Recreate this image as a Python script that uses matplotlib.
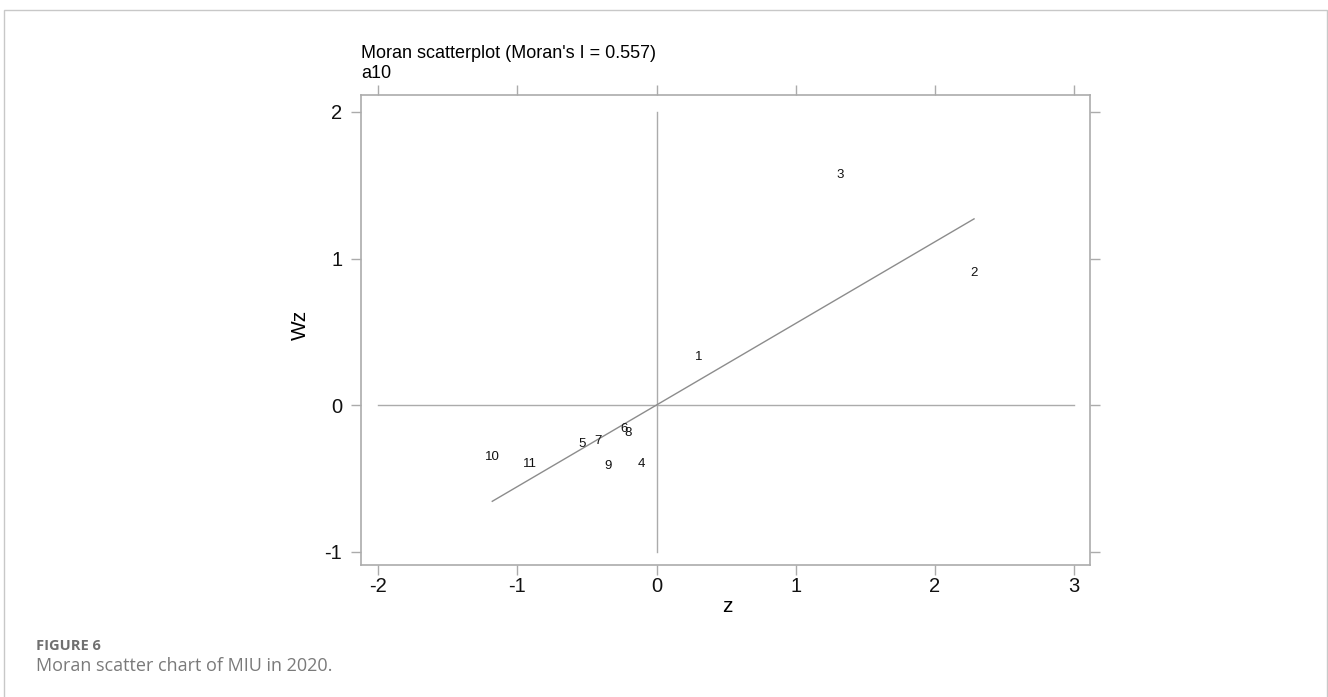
import matplotlib
matplotlib.use("Agg")
import matplotlib.pyplot as plt
from matplotlib.patches import Rectangle
import numpy as np

plt.rcParams['font.family'] = ['Liberation Sans', 'DejaVu Sans']

# ---- data ----
labels = ['1', '2', '3', '4', '5', '6', '7', '8', '9', '10', '11']
z = [0.30, 2.281, 1.318, -0.111, -0.533, -0.236, -0.422, -0.203, -0.351, -1.18, -0.909]
wz = [0.33, 0.90, 1.57, -0.403, -0.266, -0.166, -0.248, -0.193, -0.416, -0.357, -0.403]
morans_i = 0.557
x_ticks = [-2, -1, 0, 1, 2, 3]
y_ticks = [-1, 0, 1, 2]
title_text = "Moran scatterplot (Moran's I = 0.557)"
subtitle_text = "a10"
fig_label = "FIGURE 6"
caption = "Moran scatter chart of MIU in 2020."

W, H = 1328, 697
fig = plt.figure(figsize=(W / 100, H / 100), dpi=100)

# outer frame
fig.patches.append(Rectangle((4 / W, -0.05), (1327 - 4) / W, 1.05 - 10 / H,
                             transform=fig.transFigure, fill=False,
                             edgecolor='#c8c8c8', linewidth=1.0))

ax = fig.add_axes([361 / W, 1 - 565 / H, (1090 - 361) / W, (565 - 95) / H])
grey = '#ababab'

ax.set_xlim(-2.123, 3.114)
ax.set_ylim(-1.092, 2.116)

# reference lines
ax.plot([x_ticks[0], x_ticks[-1]], [0, 0], color=grey, lw=1.0)
ax.plot([0, 0], [y_ticks[0], y_ticks[-1]], color=grey, lw=1.0)

# fitted line (slope = Moran's I)
zx = np.array([min(z), max(z)])
ax.plot(zx, morans_i * zx, color='#8c8c8c', lw=1.0)

for lab, xv, yv in zip(labels, z, wz):
    ax.text(xv, yv, lab, fontsize=9.5, ha='center', va='center', color='#111111')

for s in ax.spines.values():
    s.set_color(grey)
    s.set_linewidth(1.2)

ax.set_xticks(x_ticks)
ax.set_yticks(y_ticks)
ax.set_xticklabels([str(v) for v in x_ticks])
ax.set_yticklabels([str(v) for v in y_ticks])
ax.tick_params(axis='both', which='both', direction='out', length=7.5, width=1.0,
               color=grey, labelsize=14.5, labelcolor='#111111',
               top=True, right=True, labeltop=False, labelright=False)
ax.tick_params(axis='x', pad=1.5)
ax.tick_params(axis='y', pad=6)

fig.text(727 / W, 1 - 607 / H, 'z', fontsize=15, ha='center', va='center')
fig.text(300 / W, 1 - 325 / H, 'Wz', fontsize=15, ha='center', va='center', rotation=90)

fig.text(361 / W, 1 - 58 / H, title_text, fontsize=13, ha='left', va='baseline')
fig.text(361 / W, 1 - 78 / H, subtitle_text, fontsize=13, ha='left', va='baseline')

fig.text(36 / W, 1 - 646 / H, fig_label, fontsize=10.5, ha='left', va='center',
         color='#707070', fontweight='bold', family=['Open Sans', 'DejaVu Sans'])
fig.text(36 / W, 1 - 666 / H, caption, fontsize=13, ha='left', va='center',
         color='#7a7a7a', family=['Open Sans', 'DejaVu Sans'])

fig.savefig('out.png', dpi=100)
